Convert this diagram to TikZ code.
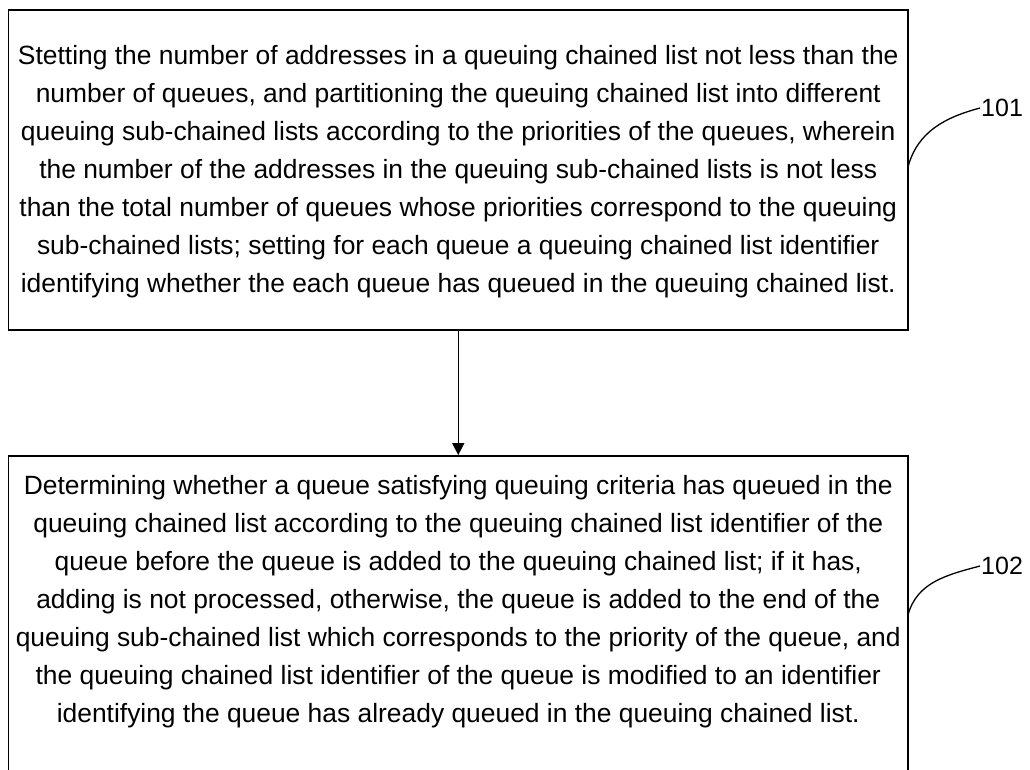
\documentclass[tikz,border=0pt]{standalone}
\usepackage{fontspec}
\setmainfont{Liberation Sans}
\usetikzlibrary{arrows.meta}
\begin{document}
\begin{tikzpicture}[x=1pt,y=-1pt,
  frame/.style={draw,line width=1.8pt,inner sep=0pt},
  body/.style={align=center,font=\fontsize{26.4}{38}\selectfont,inner sep=0pt},
  tag/.style={font=\fontsize{25}{28}\selectfont,anchor=west,inner sep=1pt},
  leader/.style={line width=1.3pt},
  flow/.style={line width=1.5pt,-{Triangle[length=12pt,width=12pt]}}]
\useasboundingbox (0,0) rectangle (1030,769);
% step 101
\node[frame,minimum width=899.5pt,minimum height=320pt] (b1) at (458.25,170) {};
\node[body] (t1) at (458.25,172) {Stetting the number of addresses in a queuing chained list not less than the\\
number of queues, and partitioning the queuing chained list into different\\
queuing sub-chained lists according to the priorities of the queues, wherein\\
the number of the addresses in the queuing sub-chained lists is not less\\
than the total number of queues whose priorities correspond to the queuing\\
sub-chained lists; setting for each queue a queuing chained list identifier\\
identifying whether the each queue has queued in the queuing chained list.};
% step 102
\node[frame,minimum width=899.5pt,minimum height=340pt] (b2) at (458.25,626) {};
\node[body] (t2) at (458.25,602) {Determining whether a queue satisfying queuing criteria has queued in the\\
queuing chained list according to the queuing chained list identifier of the\\
queue before the queue is added to the queuing chained list; if it has,\\
adding is not processed, otherwise, the queue is added to the end of the\\
queuing sub-chained list which corresponds to the priority of the queue, and\\
the queuing chained list identifier of the queue is modified to an identifier\\
identifying the queue has already queued in the queuing chained list.};
% flow arrow
\draw[flow] (b1.south) -- (b2.north);
% reference numerals
\coordinate (e1) at (908,167);
\node[tag] (n1) at (980,108) {101};
\draw[leader] (e1) to[out=75,in=195] (n1.west);
\coordinate (e2) at (908,615);
\node[tag] (n2) at (980,566) {102};
\draw[leader] (e2) to[out=75,in=195] (n2.west);
\end{tikzpicture}
\end{document}
